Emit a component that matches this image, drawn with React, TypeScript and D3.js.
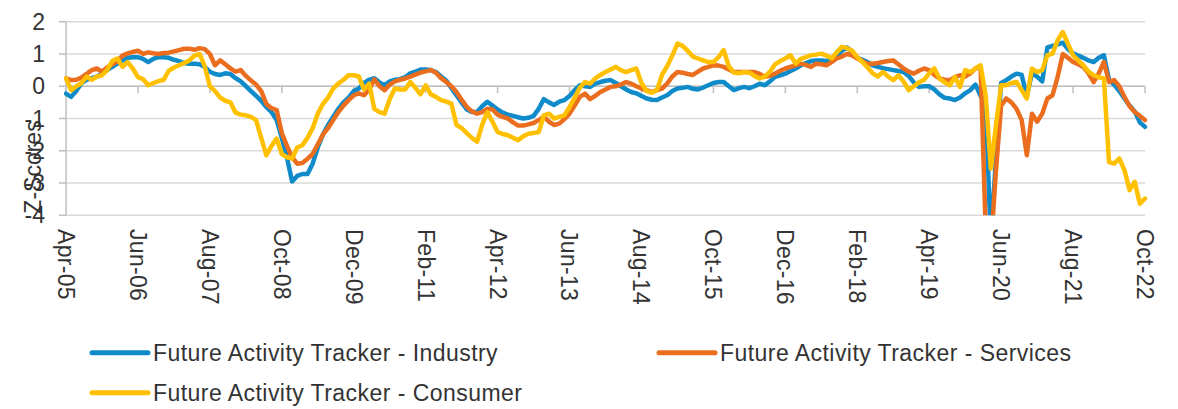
import React from "react";
import * as d3 from "d3";

// Monthly observations, Apr-05 .. Oct-22 (211 months)
const startMonth = new Date(2005, 3, 1);
const endMonth = new Date(2022, 9, 1);
const months: Date[] = d3.timeMonth.range(startMonth, d3.timeMonth.offset(endMonth, 1));

const xTickLabels = [
  "Apr-05", "Jun-06", "Aug-07", "Oct-08", "Dec-09", "Feb-11", "Apr-12", "Jun-13",
  "Aug-14", "Oct-15", "Dec-16", "Feb-18", "Apr-19", "Jun-20", "Aug-21", "Oct-22",
];
const yTicks = [2, 1, 0, -1, -2, -3, -4];

const industry = [
  -0.23, -0.33, -0.15, 0.1, 0.2, 0.25, 0.3, 0.4, 0.5, 0.6,
  0.7, 0.8, 0.88, 0.9, 0.9, 0.85, 0.75, 0.85, 0.9, 0.9,
  0.88, 0.82, 0.78, 0.72, 0.7, 0.7, 0.68, 0.6, 0.45, 0.38,
  0.35, 0.4, 0.38, 0.25, 0.15, 0.0, -0.15, -0.3, -0.45, -0.65,
  -0.8, -1.05, -1.6, -2.2, -2.95, -2.78, -2.72, -2.72, -2.4, -1.9,
  -1.5, -1.2, -0.95, -0.7, -0.5, -0.35, -0.15, -0.07, 0.1, 0.2,
  0.25, 0.12, 0.03, 0.15, 0.2, 0.22, 0.28, 0.4, 0.45, 0.52,
  0.52, 0.5, 0.44, 0.3, 0.18, -0.05, -0.28, -0.5, -0.72, -0.8,
  -0.8, -0.62, -0.48, -0.6, -0.72, -0.82, -0.88, -0.92, -0.96, -1.0,
  -0.98, -0.92, -0.7, -0.4, -0.5, -0.58, -0.48, -0.43, -0.3, -0.12,
  0.03, 0.0, -0.02, 0.08, 0.13, 0.17, 0.19, 0.1, 0.0, -0.1,
  -0.18, -0.22, -0.3, -0.38, -0.42, -0.43, -0.35, -0.28, -0.15, -0.07,
  -0.05, -0.02, -0.08, -0.1, -0.04, 0.03, 0.1, 0.13, 0.13, 0.0,
  -0.12, -0.06, -0.02, -0.06, 0.0, 0.08, 0.03, 0.15, 0.29, 0.34,
  0.39, 0.47, 0.55, 0.65, 0.72, 0.78, 0.8, 0.8, 0.78, 0.82,
  0.95, 1.1, 1.2, 1.08, 0.88, 0.82, 0.75, 0.65, 0.6, 0.56,
  0.53, 0.5, 0.47, 0.44, 0.32, 0.12, -0.02, 0.0, 0.0, -0.1,
  -0.25, -0.36, -0.38, -0.43, -0.35, -0.22, -0.12, 0.05, -0.3, -0.6,
  -4.8, -2.2, 0.1, 0.19, 0.3, 0.39, 0.35, -0.3, 0.4, 0.3,
  0.15, 1.2, 1.25, 1.3, 1.35, 1.15, 1.02, 0.95, 0.88, 0.8,
  0.75, 0.88, 0.96, 0.2, 0.05, -0.15, -0.38, -0.6, -0.78, -1.12,
  -1.26,
];

const services = [
  0.24, 0.19, 0.2, 0.27, 0.38, 0.5, 0.55, 0.45, 0.58, 0.68,
  0.78, 0.95, 1.02, 1.06, 1.1, 1.0, 1.05, 1.02, 1.0, 1.03,
  1.04, 1.08, 1.12, 1.16, 1.16, 1.13, 1.18, 1.15, 1.0, 0.65,
  0.8, 0.68, 0.55, 0.45, 0.5, 0.32, 0.18, 0.05, -0.15, -0.55,
  -0.68, -0.74, -1.45, -1.85, -2.2, -2.4, -2.38, -2.25, -2.1, -1.8,
  -1.5, -1.3, -1.05, -0.8, -0.6, -0.43, -0.28, -0.22, -0.28, -0.1,
  0.21, 0.0, -0.12, 0.05, 0.15, 0.2, 0.24, 0.3, 0.36, 0.42,
  0.46, 0.5, 0.42, 0.25, 0.13, 0.0, -0.18, -0.42, -0.64, -0.78,
  -0.85, -0.8, -0.7, -0.72, -0.88, -0.95, -1.0, -1.12, -1.22, -1.22,
  -1.18, -1.14, -1.05, -0.95, -1.1, -1.2, -1.16, -1.02, -0.85, -0.6,
  -0.33, -0.23, -0.4, -0.3, -0.18, -0.1, -0.02, 0.0, 0.05, 0.13,
  0.08, 0.0, -0.07, -0.12, -0.18, -0.12, -0.07, 0.08, 0.3, 0.44,
  0.42, 0.38, 0.35, 0.45, 0.55, 0.6, 0.65, 0.64, 0.6, 0.52,
  0.44, 0.44, 0.44, 0.44, 0.44, 0.38, 0.29, 0.32, 0.39, 0.48,
  0.55, 0.6, 0.65, 0.7, 0.66, 0.6, 0.7, 0.68, 0.65, 0.75,
  0.86, 0.92, 1.0, 0.96, 0.86, 0.78, 0.7, 0.7, 0.72, 0.75,
  0.78, 0.8, 0.68, 0.55, 0.45, 0.39, 0.48, 0.55, 0.5, 0.35,
  0.24, 0.2, 0.19, 0.28, 0.34, 0.3, 0.4, 0.55, 0.6, -4.5,
  -5.0, -2.6, -0.6, -0.38, -0.5, -0.7, -1.05, -2.14, -0.85, -1.1,
  -0.85, -0.38, -0.28, 0.29, 1.0, 0.88, 0.75, 0.68, 0.6, 0.4,
  0.13, 0.4, 0.75, 0.13, 0.19, 0.0, -0.33, -0.62, -0.8, -0.92,
  -1.05,
];

const consumer = [
  0.24, -0.12, 0.0, 0.1, 0.3, 0.2, 0.3, 0.34, 0.5, 0.78,
  0.86, 0.6, 0.75, 0.55, 0.28, 0.22, 0.03, 0.1, 0.16, 0.2,
  0.48, 0.58, 0.65, 0.72, 0.8, 0.95, 1.0, 0.62, 0.0, -0.15,
  -0.35, -0.45, -0.5, -0.82, -0.88, -0.9, -0.95, -1.05, -1.6, -2.14,
  -1.85, -1.62, -2.1, -2.2, -2.24, -1.9, -1.83, -1.6, -1.3, -0.85,
  -0.55, -0.35, -0.07, 0.08, 0.2, 0.34, 0.34, 0.3, -0.1, 0.08,
  -0.7, -0.8, -0.85, -0.4, -0.07, -0.1, -0.1, 0.13, -0.05, -0.25,
  0.03, -0.25, -0.33, -0.43, -0.48, -0.54, -1.2, -1.3, -1.45, -1.6,
  -1.72, -1.2, -0.8, -1.1, -1.42, -1.48, -1.52, -1.6, -1.67, -1.55,
  -1.47, -1.45, -1.42, -0.9, -0.85, -1.0, -0.95, -0.9, -0.65, -0.35,
  -0.05, 0.13, 0.08, 0.24, 0.35, 0.44, 0.52, 0.6, 0.5, 0.44,
  0.5, 0.55, 0.1, -0.15, -0.2, -0.12, 0.35, 0.62, 0.95, 1.32,
  1.25, 1.1, 0.92, 0.86, 0.8, 0.75, 0.75, 0.9, 1.12, 0.62,
  0.42, 0.4, 0.44, 0.42, 0.32, 0.24, 0.3, 0.45, 0.68, 0.78,
  0.86, 0.96, 0.7, 0.85, 0.9, 0.96, 0.98, 1.01, 0.95, 0.86,
  1.05, 1.22, 1.18, 1.1, 0.9, 0.75, 0.58, 0.4, 0.3, 0.44,
  0.3, 0.19, 0.34, 0.15, -0.12, 0.0, 0.12, 0.2, 0.4, 0.55,
  0.24, 0.12, 0.03, 0.29, -0.02, 0.5, 0.44, 0.55, 0.65, -0.3,
  -2.55, -1.2, 0.03, 0.03, 0.1, 0.13, -0.12, -0.38, 0.55, 0.44,
  0.5, 0.96, 1.01, 1.43, 1.68, 1.32, 0.96, 0.8, 0.65, 0.45,
  0.34, 0.28, 0.24, -2.35, -2.4, -2.24, -2.6, -3.22, -2.96, -3.64,
  -3.48,
];

const seriesNames = [
  "Future Activity Tracker - Industry",
  "Future Activity Tracker - Services",
  "Future Activity Tracker - Consumer",
];
const seriesColors = ["#0F8BC9", "#EB6E1E", "#FFC000"];
const seriesValues = [industry, services, consumer];

const W = 1178;
const H = 409;
const plotLeft = 66;
const plotRight = 1145;
const plotTop = 21.7;
const plotBottom = 215.3;
const FONT = "'Liberation Sans', Arial, sans-serif";
const TEXT = "#333333";

export default function App() {
  const x = d3.scaleLinear().domain([0, months.length - 1]).range([plotLeft, plotRight]);
  const y = d3.scaleLinear().domain([-4, 2]).range([plotBottom, plotTop]);
  const line = d3
    .line<number>()
    .x((_, i) => x(i))
    .y((d) => y(d));

  const tickIdx = xTickLabels.map((_, k) => k * 14);

  const legendItems = [
    { name: seriesNames[0], color: seriesColors[0], lx: 92, ly: 352.7 },
    { name: seriesNames[1], color: seriesColors[1], lx: 659, ly: 352.7 },
    { name: seriesNames[2], color: seriesColors[2], lx: 92, ly: 392.7 },
  ];

  return (
    <svg
      width={W}
      height={H}
      style={{ position: "absolute", left: 0, top: 0, background: "#fff" }}
      fontFamily={FONT}
    >
      <defs>
        <clipPath id="plotclip">
          <rect x={plotLeft - 2} y={plotTop - 10} width={plotRight - plotLeft + 10} height={plotBottom - plotTop + 10} />
        </clipPath>
      </defs>
      {/* gridlines */}
      {yTicks.map((t) => (
        <line key={t} x1={plotLeft} x2={plotRight} y1={y(t)} y2={y(t)} stroke="#D9D9D9" strokeWidth={1.5} />
      ))}
      {/* y axis */}
      <line x1={plotLeft} x2={plotLeft} y1={plotTop} y2={plotBottom} stroke="#BFBFBF" strokeWidth={1.5} />
      {yTicks.map((t) => (
        <line key={"yt" + t} x1={plotLeft - 7} x2={plotLeft} y1={y(t)} y2={y(t)} stroke="#BFBFBF" strokeWidth={1.5} />
      ))}
      {/* x axis at zero */}
      <line x1={plotLeft} x2={plotRight} y1={y(0)} y2={y(0)} stroke="#BFBFBF" strokeWidth={1.5} />
      {tickIdx.map((i) => (
        <line key={"xt" + i} x1={x(i)} x2={x(i)} y1={y(0)} y2={y(0) + 7} stroke="#BFBFBF" strokeWidth={1.5} />
      ))}
      {/* y tick labels */}
      {yTicks.map((t) => (
        <text key={"yl" + t} x={45} y={y(t)} dy="0.35em" textAnchor="end" fontSize={23} fill={TEXT}>
          {t}
        </text>
      ))}
      {/* y axis title */}
      <text
        transform={`translate(41,167) rotate(-90)`}
        textAnchor="middle"
        fontSize={23}
        fill={TEXT}
      >
        Z-Scores
      </text>
      {/* x tick labels */}
      {xTickLabels.map((lab, k) => (
        <text
          key={lab}
          transform={`translate(${x(tickIdx[k])},229) rotate(90)`}
          dy="0.35em"
          textAnchor="start"
          fontSize={23}
          letterSpacing={0.3}
          fill={TEXT}
        >
          {lab}
        </text>
      ))}
      {/* series */}
      <g clipPath="url(#plotclip)">
        {seriesValues.map((vals, s) => (
          <path
            key={s}
            d={line(vals) || ""}
            fill="none"
            stroke={seriesColors[s]}
            strokeWidth={4.5}
            strokeLinejoin="round"
            strokeLinecap="round"
          />
        ))}
      </g>
      {/* legend */}
      {legendItems.map((it) => (
        <g key={it.name}>
          <line x1={it.lx} x2={it.lx + 56} y1={it.ly} y2={it.ly} stroke={it.color} strokeWidth={5} strokeLinecap="round" />
          <text x={it.lx + 61} y={it.ly} dy="0.35em" fontSize={23} letterSpacing={0.45} fill={TEXT}>
            {it.name}
          </text>
        </g>
      ))}
    </svg>
  );
}
